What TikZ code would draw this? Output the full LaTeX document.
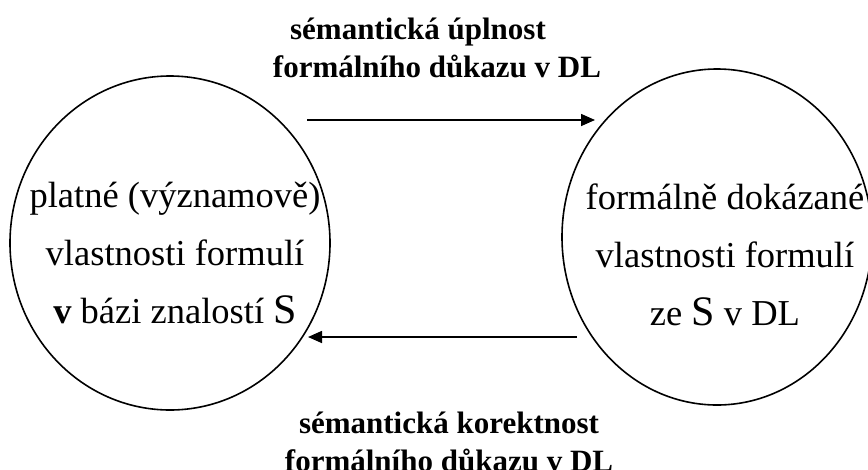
\documentclass[tikz,border=0pt]{standalone}
\usepackage{fontspec}
\setmainfont{Liberation Serif}
\usepackage{tikz}
\usetikzlibrary{shapes.geometric,arrows.meta,positioning}

\begin{document}
\begin{tikzpicture}[
  x=1pt, y=-1pt,
  world/.style={draw, ellipse, line width=1.6pt, inner sep=0pt},
  inside/.style={align=center, anchor=base, font=\fontsize{36.5}{58}\selectfont},
  rel/.style={align=center, anchor=base, font=\fontsize{31}{38}\selectfont\bfseries},
  arrow/.style={-{Triangle[length=14pt,width=12pt]}, line width=1.6pt}
]
\useasboundingbox (0,0) rectangle (868,469);

\node[world, minimum width=320pt, minimum height=334pt] (valid) at (170,243) {};
\node[world, minimum width=310pt, minimum height=336pt] (proved) at (717,237) {};

% base anchor sits on the last line
\node[inside] (validtxt) at (175,323) {platné (významově)\\vlastnosti formulí\\\textbf{v} bázi znalostí {\fontsize{42}{58}\selectfont S}};
\node[inside] (provedtxt) at (725,325) {formálně dokázané\\vlastnosti formulí\\ze {\fontsize{42}{58}\selectfont S} v DL};

% the two relations between the circles
\coordinate (cplA) at (307,120);
\coordinate (cplB) at (595,120);
\coordinate (corA) at (577,337);
\coordinate (corB) at (308,337);
\draw[arrow] (cplA) -- (cplB);
\draw[arrow] (corA) -- (corB);

\node[rel] (cpl) at (437,77) {sémantická úplnost\hspace*{38pt}\\formálního důkazu v DL};
\node[rel] (cor) at (449,471) {sémantická korektnost\\formálního důkazu v DL};
\end{tikzpicture}
\end{document}
